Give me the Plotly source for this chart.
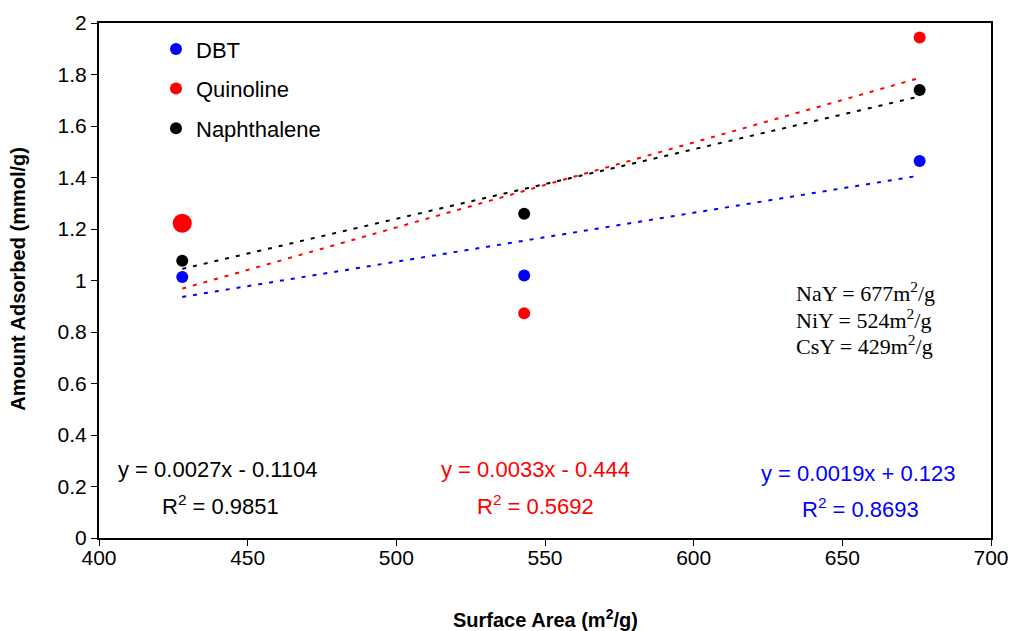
import plotly.graph_objects as go

# Surface area (m2/g) of the three zeolites as plotted
surface_area = [428, 543, 676]

# Amount adsorbed (mmol/g)
dbt = [1.014, 1.019, 1.464]
quinoline = [1.222, 0.873, 1.944]
naphthalene = [1.077, 1.259, 1.740]

# Linear trendlines: (slope, intercept, r2, colour)
fits = {
    "Naphthalene": (0.0027, -0.1104, 0.9851, "black"),
    "Quinoline": (0.0033, -0.444, 0.5692, "red"),
    "DBT": (0.0019, 0.123, 0.8693, "blue"),
}

x_ticks = [400, 450, 500, 550, 600, 650, 700]
y_ticks = [0, 0.2, 0.4, 0.6, 0.8, 1, 1.2, 1.4, 1.6, 1.8, 2]

SANS = "Arial, Liberation Sans, sans-serif"
SERIF = "Times New Roman, Liberation Serif, serif"

fig = go.Figure()

series = [
    ("DBT", dbt, "#0000ff", [12, 12, 12]),
    ("Quinoline", quinoline, "#ff0000", [19, 12, 12]),
    ("Naphthalene", naphthalene, "#000000", [12, 12, 12]),
]
for i, (name, vals, col, sizes) in enumerate(series):
    fig.add_trace(go.Scatter(
        x=surface_area, y=vals, mode="markers", name=name,
        legendgroup=f"g{i}", opacity=1,
        marker=dict(color=col, size=sizes, opacity=1, line=dict(width=0)),
    ))

# Dashed trendlines spanning the data range
x0, x1 = min(surface_area), max(surface_area)
for name, (m, b, r2, col) in fits.items():
    fig.add_trace(go.Scatter(
        x=[x0, x1], y=[m * x0 + b, m * x1 + b], mode="lines",
        line=dict(color=col, width=2, dash="4px,7px"),
        showlegend=False, hoverinfo="skip",
    ))

# Equation / R2 label centres: (eq x px, eq y, r2 x px, r2 y)
eq_pos = {
    "Naphthalene": (218, 0.265, 220, 0.13),
    "Quinoline": (535, 0.265, 535, 0.13),
    "DBT": (858, 0.25, 860, 0.115),
}
for name, (m, b, r2, col) in fits.items():
    ex, ey, rx, ry = eq_pos[name]
    fig.add_annotation(
        x=(ex - 99) / 892, y=ey, xref="paper", yref="y", xanchor="center",
        text=f"y = {m:.4f}x {'-' if b < 0 else '+'} {abs(b):g}",
        showarrow=False, font=dict(family=SANS, size=22, color=col),
    )
    fig.add_annotation(
        x=(rx - 99) / 892, y=ry, xref="paper", yref="y", xanchor="center",
        text=f"R<sup>2</sup> = {r2}",
        showarrow=False, font=dict(family=SANS, size=22, color=col),
    )

# Surface area key
for i, (zeo, sa) in enumerate([("NaY", 677), ("NiY", 524), ("CsY", 429)]):
    fig.add_annotation(
        x=(794 - 99) / 892, y=0.955 - i * 0.103, xref="paper", yref="y",
        xanchor="left", text=f"{zeo} = {sa}m<sup>2</sup>/g",
        showarrow=False, font=dict(family=SERIF, size=22, color="black"),
    )

# Axis titles placed as annotations so the plot area stays fixed
fig.add_annotation(
    x=0.5, y=-0.157, xref="paper", yref="paper", xanchor="center", yanchor="middle",
    text="<b>Surface Area (m<sup>2</sup>/g)</b>", showarrow=False,
    font=dict(family=SANS, size=20, color="black"),
)
fig.add_annotation(
    x=-0.091, y=0.503, xref="paper", yref="paper", xanchor="center", yanchor="middle",
    text="<b>Amount Adsorbed (mmol/g)</b>", showarrow=False, textangle=-90,
    font=dict(family=SANS, size=20, color="black"),
)

axis_common = dict(
    showline=True, linecolor="black", linewidth=2, mirror=True,
    ticks="outside", ticklen=6, tickcolor="black", tickwidth=1,
    showgrid=False, zeroline=False, automargin=False,
    tickfont=dict(family=SANS, size=21, color="black"),
)

fig.update_layout(
    width=1015, height=631,
    margin=dict(l=99, r=24, t=23, b=93),
    paper_bgcolor="white", plot_bgcolor="white",
    xaxis=dict(range=[400, 700], tickvals=x_ticks, ticklabelstandoff=-6,
               **axis_common),
    yaxis=dict(
        range=[0, 2], tickvals=y_ticks,
        ticktext=[f"{v:g}" for v in y_ticks],
        **axis_common,
    ),
    legend=dict(
        x=(156 - 99) / 892, y=0.99, xanchor="left", yanchor="top",
        font=dict(family=SANS, size=22, color="black"),
        bgcolor="rgba(0,0,0,0)", tracegroupgap=8, itemsizing="constant",
        itemwidth=30,
    ),
    showlegend=True,
)

fig.write_html("out.html")
